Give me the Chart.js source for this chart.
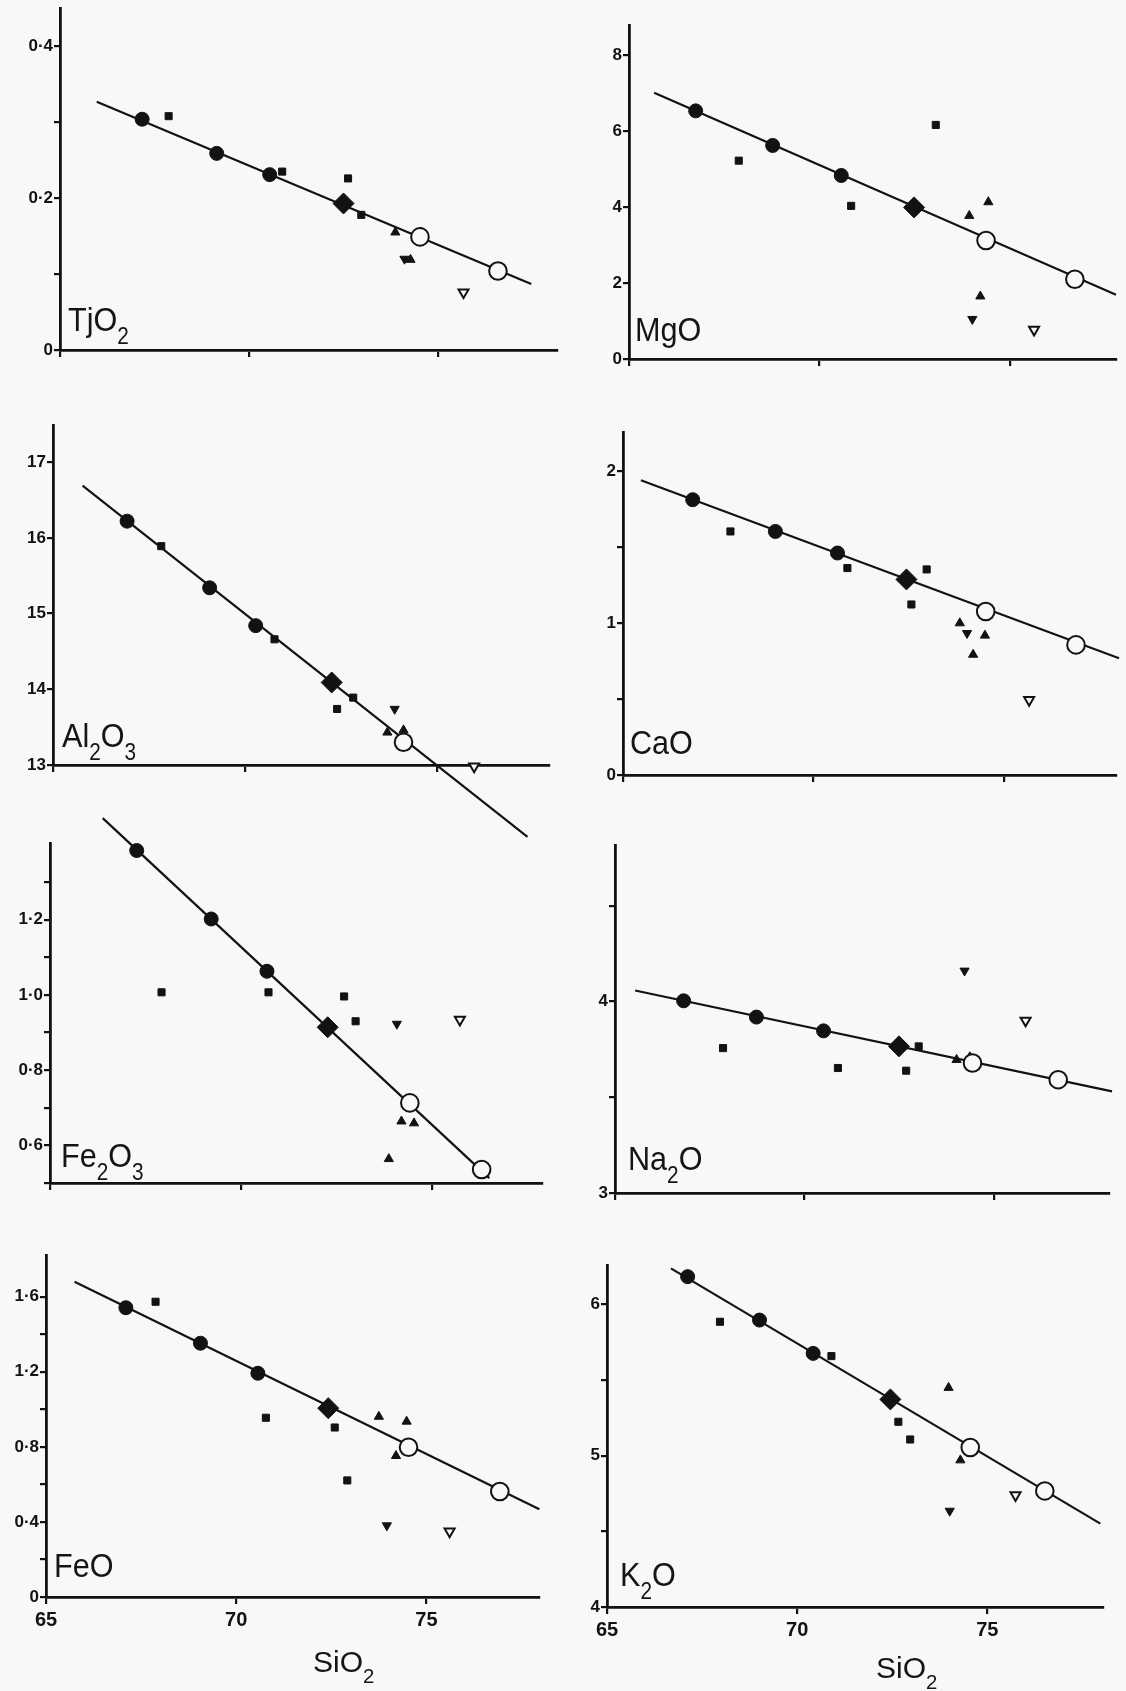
<!DOCTYPE html>
<html>
<head>
<meta charset="utf-8">
<script src="https://cdn.jsdelivr.net/npm/chart.js@4.4.1/dist/chart.umd.min.js"></script>
<style>
  html, body { margin: 0; padding: 0; background: #f8f8f6; }
  #page { position: relative; width: 1126px; height: 1691px; overflow: hidden; background: #f8f8f6; }
  #page canvas { position: absolute; }
  .lbl { position: absolute; font-family: "Liberation Sans", Arial, Helvetica, sans-serif; color: #151515;
         white-space: nowrap; line-height: 1; transform-origin: 0 0; }
  .lbl sub { font-size: 0.68em; line-height: 0; vertical-align: -0.55em; }
</style>
</head>
<body>
<div id="page"></div>
<script>
// SiO2 axis ticks shared by every panel
const SIO2_TICKS = [65, 70, 75];
const SIO2_LABELS = ['65', '70', '75'];

// TiO2 vs SiO2
const TIO2_FILLED = [[67.17, 0.304], [69.14, 0.259], [70.54, 0.231]];
const TIO2_DIAMOND = [[72.49, 0.193]];
const TIO2_OPEN = [[74.51, 0.149], [76.57, 0.104]];
const TIO2_SQUARE = [[67.87, 0.308], [70.87, 0.235], [72.61, 0.226], [72.96, 0.178]];
const TIO2_TRI_UP = [[73.86, 0.155], [74.54, 0.155], [74.26, 0.119]];
const TIO2_TRI_DOWN = [[74.10, 0.120]];
const TIO2_TRI_OPEN = [[75.66, 0.076]];
const TIO2_TREND = [[65.97, 0.327], [77.45, 0.087]];
const TIO2_YTICKS = [0, 0.1, 0.2, 0.3, 0.4];
const TIO2_YLABELS = ['0', '', '0·2', '', '0·4'];

// MgO vs SiO2
const MGO_FILLED = [[66.75, 6.53], [68.77, 5.62], [70.57, 4.83]];
const MGO_DIAMOND = [[72.48, 3.99]];
const MGO_OPEN = [[74.37, 3.12], [76.70, 2.10]];
const MGO_SQUARE = [[67.88, 5.22], [70.83, 4.03], [73.05, 6.16]];
const MGO_TRI_UP = [[73.93, 3.77], [74.43, 4.13], [74.22, 1.65]];
const MGO_TRI_DOWN = [[74.01, 1.05]];
const MGO_TRI_OPEN = [[75.63, 0.77]];
const MGO_TREND = [[65.66, 7.01], [77.78, 1.69]];
const MGO_YTICKS = [0, 2, 4, 6, 8];
const MGO_YLABELS = ['0', '2', '4', '6', '8'];

// Al2O3 vs SiO2
const AL2O3_FILLED = [[66.93, 16.22], [69.08, 15.34], [70.28, 14.84]];
const AL2O3_DIAMOND = [[72.26, 14.09]];
const AL2O3_OPEN = [[74.13, 13.30], [76.21, 12.49]];
const AL2O3_SQUARE = [[67.82, 15.89], [70.77, 14.66], [72.82, 13.89], [72.40, 13.74]];
const AL2O3_TRI_UP = [[74.13, 13.46], [73.71, 13.43]];
const AL2O3_TRI_DOWN = [[73.90, 13.74]];
const AL2O3_TRI_OPEN = [[75.97, 12.98]];
const AL2O3_TREND = [[65.77, 16.69], [77.36, 12.05]];
const AL2O3_YTICKS = [13, 14, 15, 16, 17];
const AL2O3_YLABELS = ['13', '14', '15', '16', '17'];

// CaO vs SiO2
const CAO_FILLED = [[66.83, 1.813], [69.00, 1.604], [70.63, 1.462]];
const CAO_DIAMOND = [[72.44, 1.288]];
const CAO_OPEN = [[74.52, 1.077], [76.89, 0.857]];
const CAO_SQUARE = [[67.82, 1.604], [70.89, 1.363], [72.97, 1.354], [72.57, 1.123]];
const CAO_TRI_UP = [[73.84, 1.0], [74.50, 0.919], [74.19, 0.793]];
const CAO_TRI_DOWN = [[74.03, 0.934]];
const CAO_TRI_OPEN = [[75.66, 0.495]];
const CAO_TREND = [[65.47, 1.941], [78.02, 0.769]];
const CAO_YTICKS = [0, 0.5, 1, 1.5, 2];
const CAO_YLABELS = ['0', '', '1', '', '2'];

// Fe2O3 vs SiO2
const FE2O3_FILLED = [[67.27, 1.384], [69.22, 1.202], [70.68, 1.063]];
const FE2O3_DIAMOND = [[72.27, 0.914]];
const FE2O3_OPEN = [[74.42, 0.713], [76.30, 0.536]];
const FE2O3_SQUARE = [[67.92, 1.007], [70.72, 1.007], [72.70, 0.996], [73.00, 0.930]];
const FE2O3_TRI_UP = [[74.20, 0.664], [74.53, 0.659], [73.87, 0.564]];
const FE2O3_TRI_DOWN = [[74.08, 0.923]];
const FE2O3_TRI_OPEN = [[75.73, 0.934]];
const FE2O3_TREND = [[66.38, 1.470], [76.50, 0.513]];
const FE2O3_YTICKS = [0.5, 0.6, 0.7, 0.8, 0.9, 1.0, 1.1, 1.2, 1.3];
const FE2O3_YLABELS = ['', '0·6', '', '0·8', '', '1·0', '', '1·2', ''];

// Na2O vs SiO2
const NA2O_FILLED = [[66.81, 4.004], [68.73, 3.919], [70.50, 3.847]];
const NA2O_DIAMOND = [[72.49, 3.766]];
const NA2O_OPEN = [[74.43, 3.679], [76.69, 3.592]];
const NA2O_SQUARE = [[67.85, 3.757], [70.88, 3.653], [73.01, 3.766], [72.68, 3.639]];
const NA2O_TRI_UP = [[74.01, 3.696], [74.36, 3.71]];
const NA2O_TRI_DOWN = [[74.22, 4.161]];
const NA2O_TRI_OPEN = [[75.83, 3.901]];
const NA2O_TREND = [[65.53, 4.058], [78.11, 3.531]];
const NA2O_YTICKS = [3, 3.5, 4, 4.5];
const NA2O_YLABELS = ['3', '', '4', ''];

// FeO vs SiO2
const FEO_FILLED = [[67.10, 1.541], [69.06, 1.352], [70.57, 1.192]];
const FEO_DIAMOND = [[72.42, 1.006]];
const FEO_OPEN = [[74.53, 0.798], [76.93, 0.562]];
const FEO_SQUARE = [[67.88, 1.573], [70.78, 0.955], [72.59, 0.903], [72.92, 0.621]];
const FEO_TRI_UP = [[73.75, 0.961], [74.48, 0.935], [74.20, 0.752]];
const FEO_TRI_DOWN = [[73.96, 0.381]];
const FEO_TRI_OPEN = [[75.61, 0.349]];
const FEO_TREND = [[65.75, 1.680], [77.97, 0.468]];
const FEO_YTICKS = [0, 0.2, 0.4, 0.6, 0.8, 1.0, 1.2, 1.4, 1.6];
const FEO_YLABELS = ['0', '', '0·4', '', '0·8', '', '1·2', '', '1·6'];

// K2O vs SiO2
const K2O_FILLED = [[67.12, 6.183], [69.01, 5.896], [70.42, 5.676]];
const K2O_DIAMOND = [[72.45, 5.372]];
const K2O_OPEN = [[74.55, 5.054], [76.51, 4.767]];
const K2O_SQUARE = [[67.97, 5.885], [70.90, 5.658], [72.66, 5.224], [72.97, 5.107]];
const K2O_TRI_UP = [[73.98, 5.449], [74.29, 4.970]];
const K2O_TRI_DOWN = [[74.01, 4.635]];
const K2O_TRI_OPEN = [[75.74, 4.739]];
const K2O_TREND = [[66.68, 6.238], [77.97, 4.551]];
const K2O_YTICKS = [4, 4.5, 5, 5.5, 6];
const K2O_YLABELS = ['4', '', '5', '', '6'];

// ---- drawing ----
const BG = '#f8f8f6';
const INK = '#121212';
const FONT = '"Liberation Sans", Arial, Helvetica, sans-serif';
const YW = 70, XH = 95, PT = 45, PR = 30;   // room around each plot area

Chart.defaults.font.family = FONT;

const PANELS = [
  { title: 'TjO<sub>2</sub>', d: [TIO2_FILLED, TIO2_DIAMOND, TIO2_OPEN, TIO2_SQUARE, TIO2_TRI_UP, TIO2_TRI_DOWN, TIO2_TRI_OPEN, TIO2_TREND],
    yTicks: TIO2_YTICKS, yLabels: TIO2_YLABELS, box: { l: 59.6, t: 8.3, r: 556.5, b: 350 }, xmax: 78.13, ymin: 0, ymax: 0.4505, tx: 68, ty: 331 },
  { title: 'MgO', d: [MGO_FILLED, MGO_DIAMOND, MGO_OPEN, MGO_SQUARE, MGO_TRI_UP, MGO_TRI_DOWN, MGO_TRI_OPEN, MGO_TREND],
    yTicks: MGO_YTICKS, yLabels: MGO_YLABELS, box: { l: 629.4, t: 25, r: 1116, b: 359.3 }, xmax: 77.78, ymin: 0, ymax: 8.79, tx: 635, ty: 341 },
  { title: 'Al<sub>2</sub>O<sub>3</sub>', d: [AL2O3_FILLED, AL2O3_DIAMOND, AL2O3_OPEN, AL2O3_SQUARE, AL2O3_TRI_UP, AL2O3_TRI_DOWN, AL2O3_TRI_OPEN, AL2O3_TREND],
    yTicks: AL2O3_YTICKS, yLabels: AL2O3_YLABELS, box: { l: 53.1, t: 425, r: 549.4, b: 765 }, xmax: 77.92, ymin: 13, ymax: 17.49, tx: 62, ty: 747 },
  { title: 'CaO', d: [CAO_FILLED, CAO_DIAMOND, CAO_OPEN, CAO_SQUARE, CAO_TRI_UP, CAO_TRI_DOWN, CAO_TRI_OPEN, CAO_TREND],
    yTicks: CAO_YTICKS, yLabels: CAO_YLABELS, box: { l: 623.3, t: 431.7, r: 1116, b: 774.3 }, xmax: 77.94, ymin: 0, ymax: 2.259, tx: 630, ty: 754 },
  { title: 'Fe<sub>2</sub>O<sub>3</sub>', d: [FE2O3_FILLED, FE2O3_DIAMOND, FE2O3_OPEN, FE2O3_SQUARE, FE2O3_TRI_UP, FE2O3_TRI_DOWN, FE2O3_TRI_OPEN, FE2O3_TREND],
    yTicks: FE2O3_YTICKS, yLabels: FE2O3_YLABELS, box: { l: 50, t: 843.3, r: 542.2, b: 1183.3 }, xmax: 77.88, ymin: 0.5, ymax: 1.404, tx: 61, ty: 1167 },
  { title: 'Na<sub>2</sub>O', d: [NA2O_FILLED, NA2O_DIAMOND, NA2O_OPEN, NA2O_SQUARE, NA2O_TRI_UP, NA2O_TRI_DOWN, NA2O_TRI_OPEN, NA2O_TREND],
    yTicks: NA2O_YTICKS, yLabels: NA2O_YLABELS, box: { l: 614.7, t: 845, r: 1108.8, b: 1193.3 }, xmax: 78.03, ymin: 3, ymax: 4.818, tx: 628, ty: 1170 },
  { title: 'FeO', d: [FEO_FILLED, FEO_DIAMOND, FEO_OPEN, FEO_SQUARE, FEO_TRI_UP, FEO_TRI_DOWN, FEO_TRI_OPEN, FEO_TREND],
    yTicks: FEO_YTICKS, yLabels: FEO_YLABELS, box: { l: 45.5, t: 1255, r: 538.6, b: 1597.3 }, xmax: 77.96, ymin: 0, ymax: 1.822, tx: 54, ty: 1577, xLabels: true },
  { title: 'K<sub>2</sub>O', d: [K2O_FILLED, K2O_DIAMOND, K2O_OPEN, K2O_SQUARE, K2O_TRI_UP, K2O_TRI_DOWN, K2O_TRI_OPEN, K2O_TREND],
    yTicks: K2O_YTICKS, yLabels: K2O_YLABELS, box: { l: 607, t: 1265, r: 1103.4, b: 1606.7 }, xmax: 78.04, ymin: 4, ymax: 6.26, tx: 620, ty: 1586, xLabels: true }
];

// marker styles, in the same order as each panel's data list
const STYLES = [
  { pointStyle: 'circle',   radius: 7,   fill: INK, width: 1 },                 // filled circles
  { pointStyle: 'rectRot',  radius: 10.5, fill: INK, width: 1 },                // diamond
  { pointStyle: 'circle',   radius: 8.8, fill: BG,  width: 2 },                 // open circles
  { pointStyle: 'rect',     radius: 5,   fill: INK, width: 1 },                 // squares
  { pointStyle: 'triangle', radius: 5.3, fill: INK, width: 1 },                 // triangles
  { pointStyle: 'triangle', radius: 5.3, fill: INK, width: 1, rotation: 180 },  // inverted triangles
  { pointStyle: 'triangle', radius: 5.8, fill: BG,  width: 2, rotation: 180 }   // open inverted triangles
];

const page = document.getElementById('page');

function toXY(arr) { return arr.map(([x, y]) => ({ x, y })); }

function axisGrid(len) {
  return { display: true, drawOnChartArea: false, drawTicks: true, tickLength: len,
           tickWidth: 2.2, tickColor: INK, color: INK, lineWidth: 2.2 };
}

function addLabel(html, x, baseline, size, sx) {
  const el = document.createElement('div');
  el.className = 'lbl';
  el.innerHTML = html;
  el.style.fontSize = size + 'px';
  el.style.left = x + 'px';
  el.style.top = (baseline - 0.86 * size) + 'px';
  el.style.transform = 'scaleX(' + sx + ')';
  page.appendChild(el);
}

function makePanel(p) {
  const cw = p.box.r - p.box.l, ch = p.box.b - p.box.t;
  const W = Math.round(YW + cw + PR), H = Math.round(PT + ch + XH);
  const cv = document.createElement('canvas');
  cv.width = W; cv.height = H;
  cv.style.width = W + 'px'; cv.style.height = H + 'px';
  page.appendChild(cv);

  const datasets = STYLES.map((s, i) => ({
    data: toXY(p.d[i]),
    pointStyle: s.pointStyle,
    pointRadius: s.radius,
    pointRotation: s.rotation || 0,
    pointBackgroundColor: s.fill,
    pointBorderColor: INK,
    pointBorderWidth: s.width,
    backgroundColor: s.fill,
    borderColor: INK,
    showLine: false,
    clip: false
  }));
  // regression line, listed last so it sits under the markers
  datasets.push({
    data: toXY(p.d[7]),
    showLine: true,
    borderColor: INK,
    borderWidth: 2.2,
    pointRadius: 0,
    fill: false,
    clip: false
  });

  const chart = new Chart(cv, {
    type: 'scatter',
    data: { datasets },
    options: {
      responsive: false,
      animation: false,
      devicePixelRatio: 1,
      events: [],
      layout: { padding: { top: PT, right: PR, left: 0, bottom: 0 } },
      plugins: { legend: { display: false }, tooltip: { enabled: false } },
      scales: {
        x: {
          type: 'linear', min: 65, max: p.xmax,
          afterBuildTicks: s => { s.ticks = SIO2_TICKS.map(v => ({ value: v })); },
          afterFit: s => { s.height = XH; s.paddingLeft = 0; s.paddingRight = 0; },
          grid: axisGrid(7),
          border: { display: true, color: INK, width: 2.8 },
          ticks: { display: !!p.xLabels, autoSkip: false, maxRotation: 0, padding: 4, color: INK,
                   font: { family: FONT, size: 20, weight: 'bold' },
                   callback: (v, i) => SIO2_LABELS[i] }
        },
        y: {
          type: 'linear', min: p.ymin, max: p.ymax,
          afterBuildTicks: s => { s.ticks = p.yTicks.map(v => ({ value: v })); },
          afterFit: s => { s.width = YW; s.paddingTop = 0; s.paddingBottom = 0; },
          grid: axisGrid(6),
          border: { display: true, color: INK, width: 2.8 },
          ticks: { autoSkip: false, padding: 1, color: INK,
                   font: { family: FONT, size: 17, weight: 'bold' },
                   callback: (v, i) => p.yLabels[i] }
        }
      }
    }
  });

  const ca = chart.chartArea;
  cv.style.left = (p.box.l - ca.left) + 'px';
  cv.style.top = (p.box.t - ca.top) + 'px';

  addLabel(p.title, p.tx, p.ty, 34, 0.9);
}

PANELS.forEach(makePanel);

// SiO2 axis titles under the bottom row
addLabel('SiO<sub>2</sub>', 313, 1673, 30, 1);
addLabel('SiO<sub>2</sub>', 876, 1679, 30, 1);
</script>
</body>
</html>
